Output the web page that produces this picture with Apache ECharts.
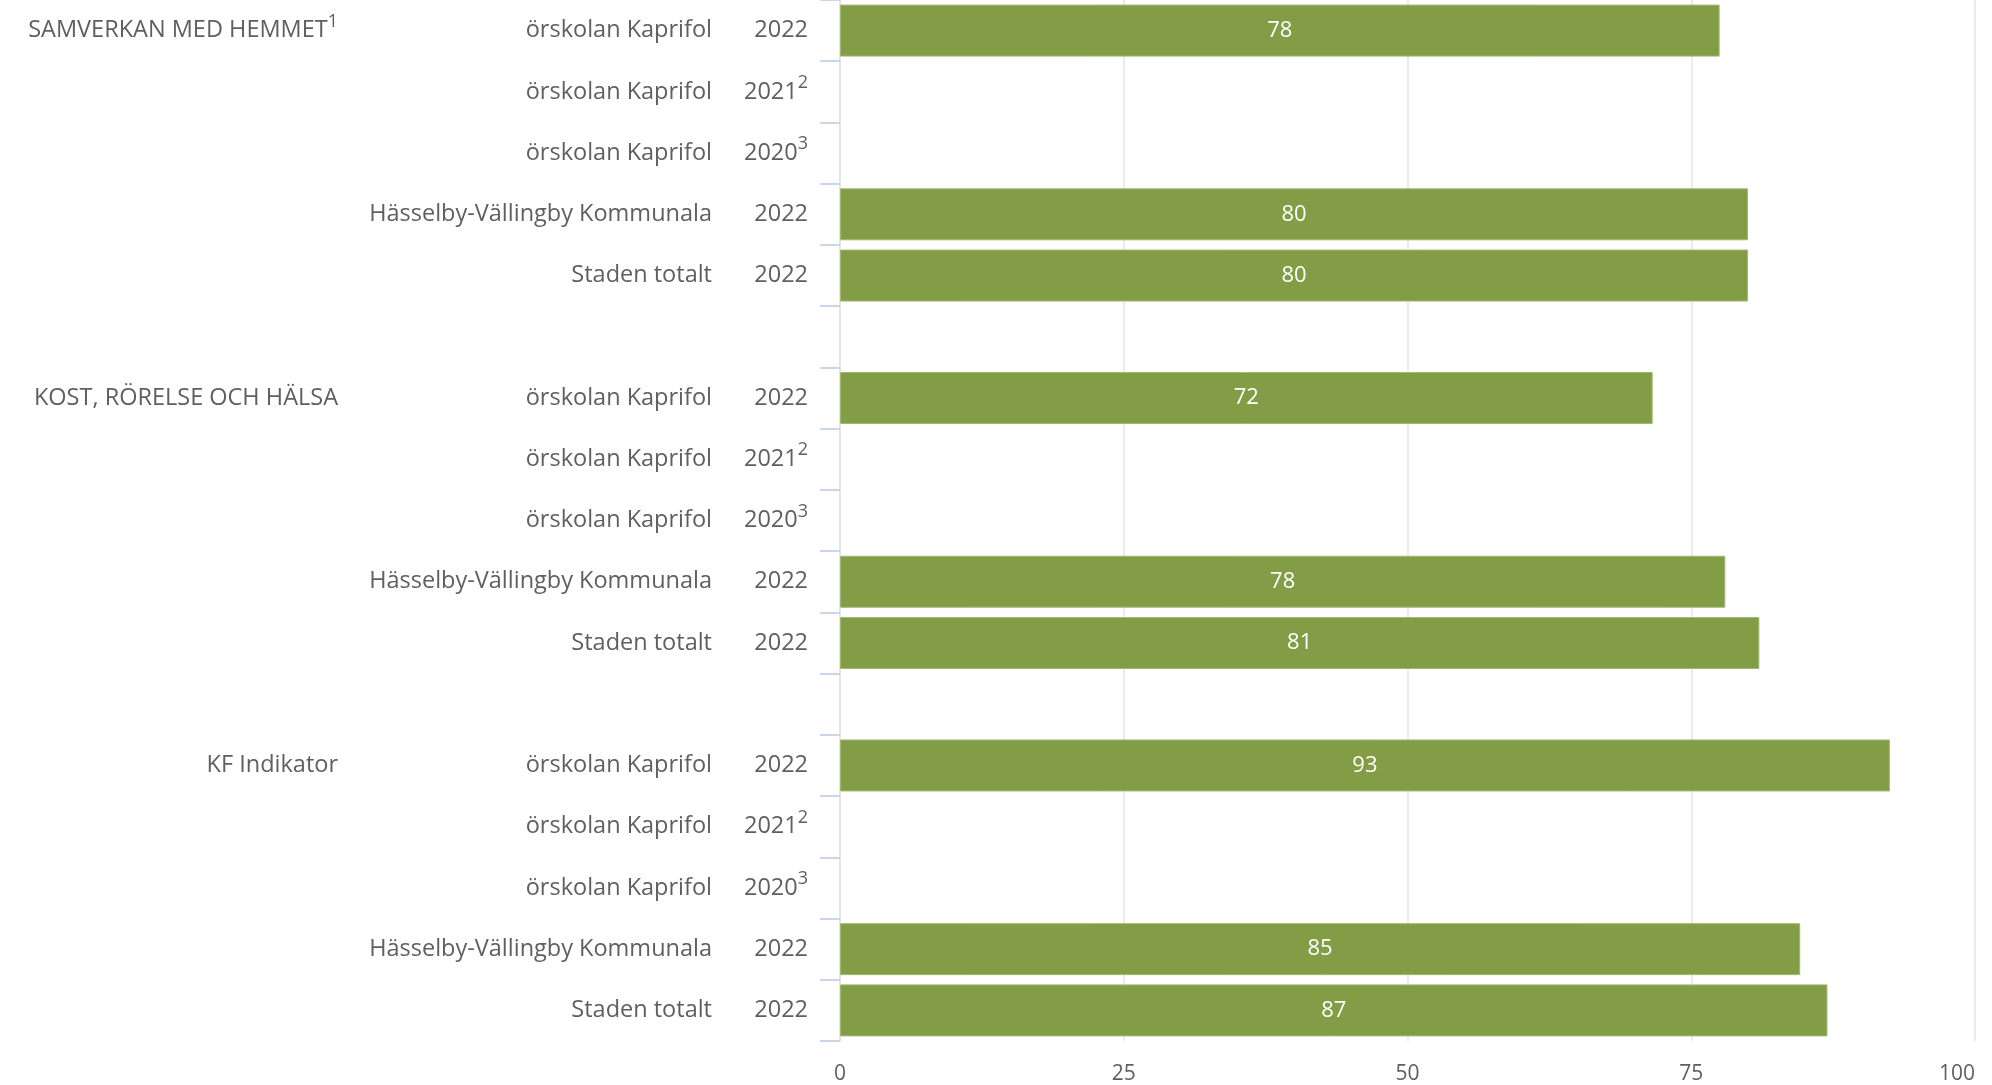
<!DOCTYPE html>
<html><head><meta charset="utf-8">
<script src="https://cdn.jsdelivr.net/npm/echarts@6/dist/echarts.min.js"></script>
<style>html,body{margin:0;padding:0;background:#fff}#c{width:1992px;height:1085px}</style>
</head><body><div id="c"></div>
<script>
const groups = ["SAMVERKAN MED HEMMET", "KOST, RÖRELSE OCH HÄLSA", "KF Indikator"];
const groupNotes = ["1", "", ""];
const units = ["örskolan Kaprifol", "örskolan Kaprifol", "örskolan Kaprifol", "Hässelby-Vällingby Kommunala", "Staden totalt"];
const years = ["2022", "2021", "2020", "2022", "2022"];
const yearNotes = ["", "2", "3", "", ""];
const valuesSamverkan = [77.5, null, null, 80, 80];
const valuesKost = [71.6, null, null, 78, 81];
const valuesKF = [92.5, null, null, 84.6, 87];
const xTicks = [0, 25, 50, 75, 100];

const groupValues = [valuesSamverkan, valuesKost, valuesKF];
const rows = [];
groupValues.forEach((vals, g) => {
  vals.forEach((v, i) => {
    rows.push({ group: i === 0 ? g : -1, unit: i, value: v });
  });
  if (g < groupValues.length - 1) rows.push({ group: -1, unit: -1, value: null });
});
const cats = rows.map((r, i) => 'r' + i);
const TXT = '#5f5f5f';
const FONT = 'Open Sans';
const baseRich = {
  t: { fontSize: 23.5, color: TXT, fontFamily: FONT },
  s: { fontSize: 18, color: TXT, fontFamily: FONT, padding: [0, 0, 18, 0] }
};
function labelAxis(margin, fmt, show) {
  return {
    type: 'category', data: cats, inverse: true, position: 'left',
    axisLine: { show: show, lineStyle: { color: '#e2e2e2', width: 1.5 } },
    axisTick: { show: show, length: 20, lineStyle: { color: '#c9d5ea', width: 2 } },
    axisLabel: { interval: 0, margin: margin, formatter: fmt, rich: baseRich, align: 'right' },
    splitLine: { show: false }
  };
}
const chart = echarts.init(document.getElementById('c'));
chart.setOption({
  animation: false,
  textStyle: { fontFamily: FONT },
  grid: { left: 840, right: 17, top: 0, bottom: 44, containLabel: false },
  xAxis: {
    type: 'value', min: xTicks[0], max: xTicks[xTicks.length - 1], interval: 25,
    axisLine: { show: false }, axisTick: { show: false },
    splitLine: { lineStyle: { color: '#e4e4e4', width: 1.5 } },
    axisLabel: { fontSize: 21, color: TXT, margin: 23, fontFamily: FONT, alignMaxLabel: 'right' }
  },
  yAxis: [
    labelAxis(32, (v, i) => {
      const r = rows[i]; if (r.unit < 0) return '';
      return '{t|' + years[r.unit] + '}' + (yearNotes[r.unit] ? '{s|' + yearNotes[r.unit] + '}' : '');
    }, true),
    labelAxis(128, (v, i) => {
      const r = rows[i]; if (r.unit < 0) return '';
      return '{t|' + units[r.unit] + '}';
    }, false),
    labelAxis(502, (v, i) => {
      const r = rows[i]; if (r.group < 0) return '';
      return '{t|' + groups[r.group] + '}' + (groupNotes[r.group] ? '{s|' + groupNotes[r.group] + '}' : '');
    }, false)
  ],
  series: [{
    type: 'bar', yAxisIndex: 0, barWidth: 52,
    data: rows.map(r => r.value),
    itemStyle: { color: '#829d45', borderColor: '#a3b873', borderWidth: 1 },
    label: { show: true, position: 'inside', color: '#ffffff', fontSize: 22, fontFamily: FONT,
      formatter: p => Math.round(p.value) }
  }]
});
</script></body></html>
